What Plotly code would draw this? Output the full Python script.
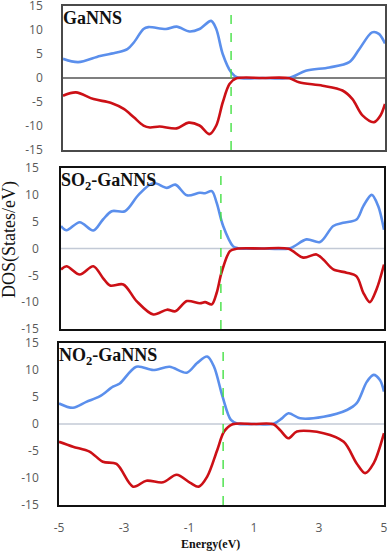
import plotly.graph_objects as go

# panel names and Fermi level positions (eV)
names = ["GaNNS", "SO<sub>2</sub>-GaNNS", "NO<sub>2</sub>-GaNNS"]
fermi = [0.22, -0.05, 0.05]

# GaNNS
e1_up = [-5, -4.53, -3.85, -3.33, -3.0, -2.8, -2.5, -2.35, -1.8, -1.47, -1.07, -0.76, -0.4, -0.24, -0.04, 0.22, 0.42, 1.2, 2.03, 2.54, 3.27, 3.89, 4.2, 4.6, 4.81, 5.0]
dos1_up = [4.0, 3.3, 4.6, 5.3, 6.0, 7.4, 10.2, 10.6, 10.2, 10.7, 9.7, 10.2, 11.9, 10.2, 5.0, 1.2, 0.1, 0, 0.05, 1.5, 2.2, 3.3, 6.0, 9.5, 9.2, 7.2]
e1_dn = [-5, -4.6, -4.05, -3.5, -3.1, -2.8, -2.5, -2.3, -2.0, -1.47, -1.1, -0.76, -0.45, -0.24, -0.04, 0.17, 0.37, 1.2, 2.03, 2.33, 3.06, 3.68, 3.99, 4.3, 4.66, 4.86, 5.0]
dos1_dn = [-3.7, -3.0, -4.4, -5.2, -6.5, -8.2, -9.9, -10.3, -10.1, -10.5, -9.3, -9.9, -11.7, -9.9, -5.1, -1.25, -0.1, 0, -0.05, -0.9, -1.6, -2.6, -4.4, -7.8, -9.2, -7.8, -5.4]

# SO2-GaNNS
e2_up = [-5, -4.83, -4.42, -4.0, -3.7, -3.43, -3.02, -2.6, -2.14, -1.72, -1.46, -1.1, -0.7, -0.54, -0.33, -0.18, 0.02, 0.33, 0.48, 1.2, 2.09, 2.6, 3.02, 3.43, 3.74, 4.15, 4.36, 4.62, 4.82, 5.0]
dos2_up = [4.2, 3.4, 4.9, 3.35, 5.4, 6.95, 6.95, 10.0, 12.2, 11.3, 11.9, 9.9, 10.4, 10.3, 10.7, 8.5, 4.2, 0.4, 0.05, 0, 0.05, 1.7, 1.2, 4.2, 4.8, 5.4, 7.9, 10.0, 7.9, 3.5]
e2_dn = [-5, -4.83, -4.42, -4.0, -3.7, -3.48, -3.07, -2.66, -2.14, -1.72, -1.46, -1.1, -0.7, -0.54, -0.33, -0.18, -0.03, 0.23, 0.43, 1.2, 2.04, 2.5, 2.91, 3.12, 3.43, 3.84, 4.15, 4.36, 4.56, 4.77, 5.0]
dos2_dn = [-3.9, -3.3, -4.85, -3.3, -5.5, -6.9, -6.7, -9.8, -12.3, -11.4, -11.7, -9.8, -10.2, -10.0, -10.4, -8.25, -4.5, -0.5, -0.05, 0, -0.05, -1.7, -1.1, -2.05, -3.9, -4.5, -5.2, -8.25, -10.0, -7.6, -3.0]

# NO2-GaNNS
e3_up = [-5, -4.57, -4.16, -3.75, -3.34, -3.13, -2.62, -2.1, -1.6, -1.07, -0.75, -0.44, -0.23, 0.03, 0.29, 0.5, 1.0, 1.6, 1.86, 2.06, 2.42, 3.14, 3.86, 4.16, 4.47, 4.68, 4.88, 5.0]
dos3_up = [3.8, 3.0, 4.1, 5.1, 6.9, 7.5, 10.6, 10.0, 10.6, 9.5, 11.3, 12.5, 10.6, 5.1, 0.75, 0.05, 0, 0.05, 1.05, 2.0, 1.05, 1.35, 2.6, 3.85, 7.8, 9.1, 8.1, 6.0]
e3_dn = [-5, -4.57, -4.06, -3.65, -3.23, -2.72, -2.31, -1.8, -1.38, -0.96, -0.7, -0.44, -0.13, 0.08, 0.34, 1.0, 1.6, 1.8, 2.06, 2.32, 3.14, 3.76, 4.16, 4.42, 4.68, 5.0]
dos3_dn = [-3.3, -4.2, -5.1, -7.0, -7.4, -11.6, -10.5, -10.8, -9.4, -10.9, -11.6, -9.75, -4.8, -1.4, -0.05, 0, -0.05, -1.1, -2.65, -1.4, -1.7, -3.3, -7.3, -9.1, -7.3, -1.7]

W, H = 391, 552
# panel boxes in pixels (left, right, top, bottom)
boxes = [(63, 385, 6, 150), (61, 384, 168, 329), (59, 384, 343, 505)]
zero_col = ["#555555", "#c3cad6", "#c3cad6"]
border_col = ["#4a4a4a", "#111111", "#111111"]
standoff = [16, 18, 16]

blue = "#5b8fec"
red = "#cc1016"

panels = [(e1_up, dos1_up, e1_dn, dos1_dn),
          (e2_up, dos2_up, e2_dn, dos2_dn),
          (e3_up, dos3_up, e3_dn, dos3_dn)]

fig = go.Figure()
for i, (eu, du, ed, dd) in enumerate(panels):
    n = "" if i == 0 else str(i + 1)
    l, r, t, b = boxes[i]
    fig.add_trace(go.Scatter(x=eu, y=du, mode="lines", xaxis="x" + n, yaxis="y" + n,
                             line=dict(color=blue, width=2.6, shape="spline", smoothing=0.9),
                             showlegend=False, hoverinfo="skip"))
    fig.add_trace(go.Scatter(x=ed, y=dd, mode="lines", xaxis="x" + n, yaxis="y" + n,
                             line=dict(color=red, width=2.6, shape="spline", smoothing=0.9),
                             showlegend=False, hoverinfo="skip"))
    fig.add_shape(type="line", xref="x" + n, yref="y" + n, x0=-5, x1=5, y0=0, y1=0,
                  line=dict(color=zero_col[i], width=1.3), layer="below")
    fig.add_shape(type="line", xref="x" + n, yref="y" + n + " domain", x0=fermi[i], x1=fermi[i],
                  y0=0, y1=1, line=dict(color="#44e044", width=1.4, dash="dash"))
    fig.add_annotation(text="<b>" + names[i] + "</b>", xref="x" + n + " domain", yref="y" + n + " domain",
                       x=0, y=1, xanchor="left", yanchor="top", xshift=-1, yshift=-1,
                       showarrow=False, borderpad=0,
                       font=dict(family="Liberation Serif", size=18, color="#111111"))
    xa = dict(domain=[l / W, r / W], range=[-5, 5], showgrid=False, zeroline=False,
              showline=True, mirror=True, linecolor=border_col[i], linewidth=1.6,
              tickvals=[-5, -3, -1, 1, 3, 5], ticktext=["-5", "-3", "-1", "1", "3", "5"], ticks="",
              showticklabels=(i == 2), ticklabelstandoff=11, automargin=False,
              ticklabeloverflow="allow",
              tickfont=dict(family="Open Sans", size=12, color="#595959"),
              anchor="y" + n)
    ya = dict(domain=[1 - b / H, 1 - t / H], range=[-15, 15], showgrid=False, zeroline=False,
              showline=True, mirror=True, linecolor=border_col[i], linewidth=1.6,
              tickvals=[-15, -10, -5, 0, 5, 10, 15], automargin=False,
              ticklabeloverflow="allow",
              ticktext=["-15", "-10", "-5", "0", "5", "10", "15"], ticks="", ticklabelstandoff=standoff[i],
              tickfont=dict(family="Open Sans", size=12, color="#595959"),
              anchor="x" + n)
    fig.layout["xaxis" + n] = xa
    fig.layout["yaxis" + n] = ya

fig.add_annotation(text="DOS(States/eV)", xref="paper", yref="paper", x=10 / W, y=1 - 240 / H,
                   xanchor="center", yanchor="middle", textangle=-90, showarrow=False,
                   font=dict(family="Liberation Serif", size=18, color="#111111"))
fig.add_annotation(text="<b>Energy(eV)</b>", xref="paper", yref="paper", x=211 / W, y=1 - 544 / H,
                   xanchor="center", yanchor="middle", showarrow=False,
                   font=dict(family="Liberation Serif", size=12, color="#111111"))

fig.update_layout(width=W, height=H, margin=dict(l=0, r=0, t=0, b=0),
                  paper_bgcolor="white", plot_bgcolor="white")
fig.write_html("out.html", config={"displayModeBar": False},
               post_script="document.body.style.margin='0px';")
